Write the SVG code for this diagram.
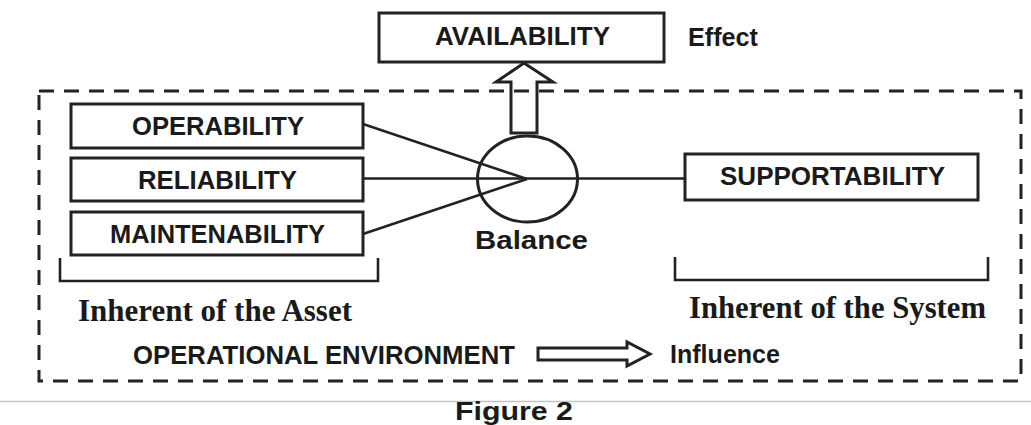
<svg xmlns="http://www.w3.org/2000/svg" width="1031" height="425" viewBox="0 0 1031 425">
<style>
.box{fill:#fff;stroke:#222;stroke-width:3}
.lbl{font-family:"Liberation Sans",Arial,sans-serif;font-weight:bold;font-size:25px;fill:#1a1a1a;text-anchor:start}
.ser{font-family:"Liberation Serif","Times New Roman",serif;font-weight:bold;font-size:32px;fill:#1a1a1a}
.ln{stroke:#222;stroke-width:2.6;fill:none}
.hollow{fill:none;stroke:#222;stroke-width:3;stroke-linejoin:miter}
</style>
<rect width="1031" height="425" fill="#fff"/>
<line x1="0" y1="401.5" x2="1031" y2="401.5" stroke="#c4c4c4" stroke-width="1.5"/>
<g id="connectors">
<line class="ln" x1="363" y1="124" x2="527" y2="179"/>
<line class="ln" x1="363" y1="178.5" x2="685" y2="178.5"/>
<line class="ln" x1="363" y1="234" x2="527" y2="179"/>
<polygon class="hollow" points="511,133 511,82 496,82 524,63 553,82 537,82 537,133"/>
<polygon class="hollow" stroke-width="2.6" points="538,348 627,348 627,342 650,354 627,366 627,360 538,360"/>
</g>
<g id="environment">
<rect x="39" y="91" width="982" height="290" fill="none" stroke="#222" stroke-width="3" stroke-dasharray="15 10"/>
</g>
<g id="availability">
<rect class="box" x="379" y="13" width="285" height="49"/>
<text class="lbl" x="435" y="45" textLength="175" lengthAdjust="spacingAndGlyphs">AVAILABILITY</text>
</g>
<g id="effect">
<text class="lbl" x="688" y="46" font-size="23" textLength="70" lengthAdjust="spacingAndGlyphs">Effect</text>
</g>
<g id="operability">
<rect class="box" x="71" y="104" width="292" height="44"/>
<text class="lbl" x="132" y="135" textLength="172" lengthAdjust="spacingAndGlyphs">OPERABILITY</text>
</g>
<g id="reliability">
<rect class="box" x="71" y="158" width="292" height="43"/>
<text class="lbl" x="138" y="189" textLength="159" lengthAdjust="spacingAndGlyphs">RELIABILITY</text>
</g>
<g id="maintenability">
<rect class="box" x="71" y="212" width="292" height="43"/>
<text class="lbl" x="110" y="243" textLength="215" lengthAdjust="spacingAndGlyphs">MAINTENABILITY</text>
</g>
<g id="balance">
<ellipse cx="527.5" cy="179" rx="50" ry="43" fill="none" stroke="#222" stroke-width="3"/>
<text class="lbl" x="475" y="249" font-size="28" textLength="113" lengthAdjust="spacingAndGlyphs">Balance</text>
</g>
<g id="supportability">
<rect class="box" x="685" y="154" width="293" height="46"/>
<text class="lbl" x="720" y="185" textLength="225" lengthAdjust="spacingAndGlyphs">SUPPORTABILITY</text>
</g>
<g id="asset">
<polyline class="ln" stroke-width="3" points="60,258 60,281 378,281 378,258"/>
<text class="ser" x="78" y="321" textLength="274" lengthAdjust="spacingAndGlyphs">Inherent of the Asset</text>
</g>
<g id="system">
<polyline class="ln" stroke-width="3" points="675,257 675,280 988,280 988,257"/>
<text class="ser" x="689" y="318" textLength="297" lengthAdjust="spacingAndGlyphs">Inherent of the System</text>
</g>
<g id="operational">
<text class="lbl" x="133" y="364" font-size="24" textLength="382" lengthAdjust="spacingAndGlyphs">OPERATIONAL ENVIRONMENT</text>
<text class="lbl" x="670" y="363" font-size="23" textLength="110" lengthAdjust="spacingAndGlyphs">Influence</text>
</g>
<g id="caption">
<text class="lbl" x="455" y="420" font-size="27" textLength="118" lengthAdjust="spacingAndGlyphs">Figure 2</text>
</g>
</svg>
